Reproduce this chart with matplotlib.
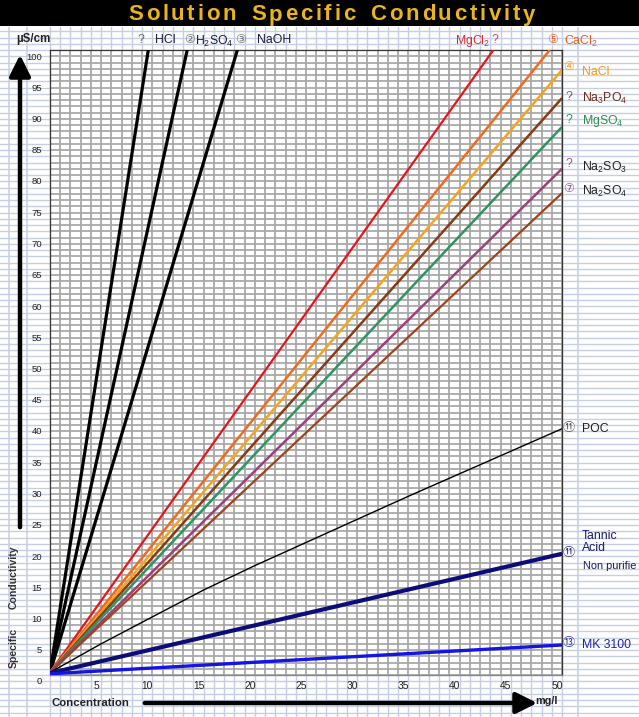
import numpy as np
import matplotlib
matplotlib.use('Agg')
import matplotlib.pyplot as plt
from matplotlib.patches import Rectangle, FancyArrowPatch
from matplotlib.transforms import ScaledTranslation

plt.rcParams['font.family'] = ['Liberation Sans', 'DejaVu Sans', 'Noto Sans CJK JP']
plt.rcParams['mathtext.fontset'] = 'custom'
plt.rcParams['mathtext.rm'] = 'Liberation Sans'
plt.rcParams['mathtext.it'] = 'Liberation Sans'
plt.rcParams['mathtext.default'] = 'rm'

# ---------------- data ----------------
x_ticks = [5, 10, 15, 20, 25, 30, 35, 40, 45, 50]
y_ticks = list(range(0, 101, 5))

hcl_conc = [0, 9.6];      hcl_cond = [0.4, 100]
h2so4_conc = [0, 13.4];   h2so4_cond = [0.4, 100]
naoh_conc = [0, 18.3];    naoh_cond = [0.4, 100]
mgcl2_conc = [0, 43.3];   mgcl2_cond = [0.4, 100]
cacl2_conc = [0, 48.8];   cacl2_cond = [0.4, 100]
nacl_conc = [0, 50];      nacl_cond = [0.4, 96.8]
na3po4_conc = [0, 50];    na3po4_cond = [0.4, 92.3]
mgso4_conc = [0, 50];     mgso4_cond = [0.4, 87.7]
na2so3_conc = [0, 50];    na2so3_cond = [0.4, 81.0]
na2so4_conc = [0, 50];    na2so4_cond = [0.4, 77.1]
poc_conc = [0, 5, 10, 15, 20, 25, 30, 35, 40, 45, 50]
poc_cond = [0.4, 5.0, 9.3, 13.6, 17.5, 21.2, 24.9, 28.6, 32.2, 35.8, 39.4]
tannic_conc = [0, 50];    tannic_cond = [0.3, 19.4]
mk3100_conc = [0, 50];    mk3100_cond = [0.2, 4.8]

series = [
    (hcl_conc, hcl_cond, '#000000', 2.3),
    (h2so4_conc, h2so4_cond, '#000000', 2.3),
    (naoh_conc, naoh_cond, '#000000', 2.3),
    (mgcl2_conc, mgcl2_cond, '#e8141c', 1.6),
    (cacl2_conc, cacl2_cond, '#f26a1b', 1.8),
    (nacl_conc, nacl_cond, '#f7a21b', 1.8),
    (na3po4_conc, na3po4_cond, '#8a3a12', 1.8),
    (mgso4_conc, mgso4_cond, '#2f9461', 1.8),
    (na2so3_conc, na2so3_cond, '#9c3f7c', 1.8),
    (na2so4_conc, na2so4_cond, '#a0421e', 1.6),
    (poc_conc, poc_cond, '#000000', 1.0),
    (tannic_conc, tannic_cond, '#0c0c7a', 3.0),
    (mk3100_conc, mk3100_cond, '#1414e6', 2.4),
]

# ---------------- layout ----------------
W, H = 639, 717
X0, X1 = 50, 562       # pixel x of conc 0 and 50
Y0, Y1 = 675, 50       # pixel y (from top) of cond 0 and 100
TOP = 27
ux = (X1 - X0) / 50.0
uy = (Y0 - Y1) / 100.0

fig = plt.figure(figsize=(W / 100, H / 100), dpi=100)
fig.patch.set_facecolor('white')

def fx(px):
    return px / W

def fy(py):
    return 1 - py / H

def txt(px, py, s, **kw):
    kw.setdefault('va', 'center')
    kw.setdefault('ha', 'left')
    return fig.text(fx(px), fy(py), s, **kw)

# background spreadsheet grid
bg = fig.add_axes([0, 0, 1, 1 - TOP / H])
bg.set_xlim(-X0 / ux, (W - X0) / ux)
bg.set_ylim(-(H - Y0) / uy, (Y0 - TOP) / uy)
bg.axis('off')
light = '#c5cfe1'
for yy in range(-6, 104):
    bg.axhline(yy, color=light, lw=1.0, zorder=1)
for xx in range(0, 51):
    bg.axvline(xx, color=light, lw=1.0, zorder=1)
for xx in [-2.25, -4.0, 51.56]:
    bg.axvline(xx, color=light, lw=1.1, zorder=1)

# main plot
ax = fig.add_axes([fx(X0), fy(Y0), (X1 - X0) / W, (Y0 - Y1) / H])
ax.set_facecolor('white')
ax.set_xlim(0, 50)
ax.set_ylim(0, 100)
ax.set_xticks(x_ticks)
ax.set_xticklabels([str(v) for v in x_ticks], fontsize=7.4, color='#222222')
ax.set_yticks(y_ticks)
ax.set_yticklabels([str(v) for v in y_ticks], fontsize=6.8, color='#222222')
ax.set_xticks(np.arange(0, 51, 1), minor=True)
ax.set_yticks(np.arange(0, 101, 1), minor=True)
ax.tick_params(which='both', length=0)
ax.tick_params(axis='x', pad=4)
ax.tick_params(axis='y', pad=5)
ax.grid(which='both', color='#a6a6a6', lw=1.25)
ax.set_axisbelow(True)
for sp in ax.spines.values():
    sp.set_color('#333333')
    sp.set_linewidth(0.9)
ax.spines['bottom'].set_color('#888888')

for lab in ax.get_xticklabels():
    lab.set_transform(lab.get_transform() + ScaledTranslation(-5 / 100, 0, fig.dpi_scale_trans))
for lab in ax.get_yticklabels():
    lab.set_transform(lab.get_transform() + ScaledTranslation(-1 / 100, -6 / 100, fig.dpi_scale_trans))

for c, v, col, lw in series:
    ax.plot(c, v, color=col, lw=lw, solid_capstyle='butt', zorder=3)

# title band
fig.add_artist(Rectangle((0, fy(26)), 1, 26 / H, transform=fig.transFigure,
                         facecolor='black', edgecolor='none', zorder=10))
renderer = fig.canvas.get_renderer()
title_words = ['Solution', 'Specific', 'Conductivity']
tfs = 16
tcol = '#e9b41c'
chars = []
for wi, w in enumerate(title_words):
    for ch in w:
        t = txt(0, 15, ch, fontsize=tfs, fontweight='bold', color=tcol,
                family=['Liberation Sans Narrow', 'Liberation Sans'], zorder=11)
        chars.append((wi, t, t.get_window_extent(renderer).width))
start, end, word_extra = 128, 535, 12
total_w = sum(c[2] for c in chars)
track = (end - start - total_w - word_extra * (len(title_words) - 1)) / (len(chars) - 1)
xpos = start
prev_w = 0
for i, (wi, t, wdt) in enumerate(chars):
    if i > 0 and wi != prev_w:
        xpos += word_extra
    t.set_x(fx(xpos))
    xpos += wdt + track
    prev_w = wi

# axis captions
txt(16, 39, 'µS/cm', fontsize=8.3, fontweight='bold', color='#222222')
fig.add_artist(FancyArrowPatch((fx(20), fy(530)), (fx(20), fy(52)),
                               transform=fig.transFigure, arrowstyle='-|>,head_length=0.8,head_width=0.4',
                               mutation_scale=16, lw=3.2, color='black'))
txt(14, 648, 'Specific', rotation=90, ha='center', fontsize=7.6, fontweight='bold', color='#333333')
txt(14, 577, 'Conductivity', rotation=90, ha='center', fontsize=7.6, fontweight='bold', color='#333333')
txt(52, 703, 'Concentration', fontsize=8.2, fontweight='bold', color='#222222')
fig.add_artist(FancyArrowPatch((fx(142), fy(703)), (fx(540), fy(703)),
                               transform=fig.transFigure, arrowstyle='-|>,head_length=0.8,head_width=0.4',
                               mutation_scale=16, lw=3.2, color='black'))
txt(535, 701, 'mg/l', fontsize=7.8, fontweight='bold', color='#222222')

# header labels
cf = 8.8
gray = '#6a6a6a'
txt(137, 40, '?', fontsize=cf, color=gray)
txt(155, 40, 'HCl', fontsize=cf, color='#1c1c3c')
txt(184, 40, '②', fontsize=cf, color=gray)
txt(195, 41, r'H$_2$SO$_4$', fontsize=cf, color='#1c1c3c')
txt(235, 40, '③', fontsize=cf, color=gray)
txt(257, 40, 'NaOH', fontsize=cf, color='#1c1c3c')
txt(455, 41, r'MgCl$_2$', fontsize=cf, color='#e3262e')
txt(491, 40, '?', fontsize=cf, color='#d04a5a')
txt(547, 40, '⑤', fontsize=cf, color='#f05a1e')
txt(564, 41, r'CaCl$_2$', fontsize=cf, color='#f05a1e')

# right labels
txt(563, 67, '④', fontsize=cf, color='#f0a030')
txt(582, 72, 'NaCl', fontsize=cf, color='#f39a1e')
txt(565, 97, '?', fontsize=cf, color='#9a4a4a')
txt(582, 98, r'Na$_3$PO$_4$', fontsize=cf, color='#6e2a18')
txt(565, 120, '?', fontsize=cf, color='#2f9461')
txt(582, 121, r'MgSO$_4$', fontsize=cf, color='#2f8a58')
txt(565, 164, '?', fontsize=cf, color='#a0508a')
txt(582, 167, r'Na$_2$SO$_3$', fontsize=cf, color='#202020')
txt(563, 189, '⑦', fontsize=cf, color='#a0508a')
txt(582, 191, r'Na$_2$SO$_4$', fontsize=cf, color='#202020')
txt(563, 428, '⑪', fontsize=cf, color='#555555')
txt(582, 429, 'POC', fontsize=cf, color='#202020')
txt(563, 553, '⑪', fontsize=cf, color='#303080')
txt(582, 536, 'Tannic', fontsize=cf, color='#1a1a6a')
txt(582, 548, 'Acid', fontsize=cf, color='#1a1a6a')
txt(583, 566, 'Non purifie', fontsize=7.9, color='#1a1a6a')
txt(563, 643, '⑬', fontsize=cf, color='#3030c0')
txt(582, 645, 'MK 3100', fontsize=cf, color='#2020b0')

fig.savefig('out.png', dpi=100, facecolor='white')
